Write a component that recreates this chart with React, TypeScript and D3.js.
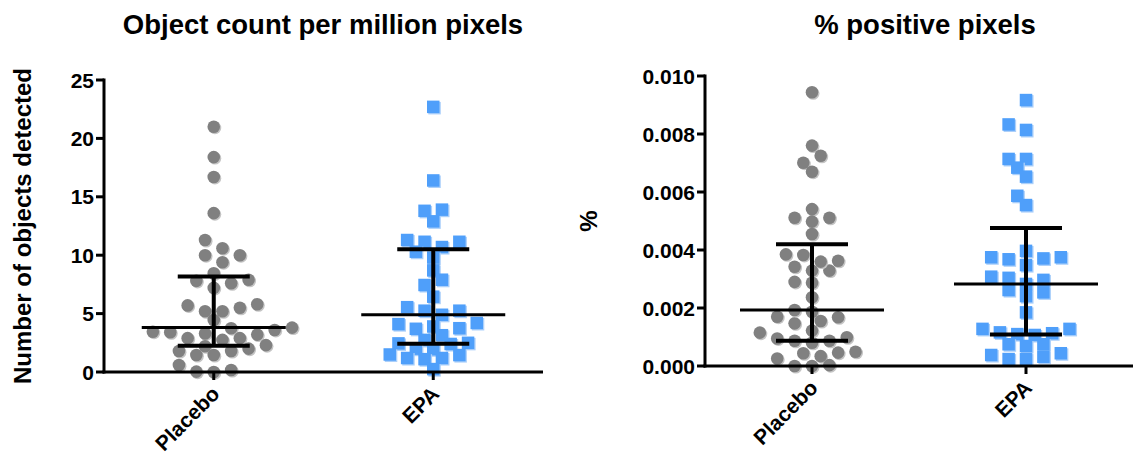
import React from "react";
import * as d3 from "d3";

// Group names shared by both panels
const groups = ["Placebo", "EPA"];

// Object count per million pixels
const countPlacebo = [
  21.0, 18.4, 16.7, 13.6, 11.3, 10.6, 10.0, 10.0, 9.4, 8.45, 7.8, 7.6, 7.9, 7.2,
  5.7, 5.2, 5.5, 5.8, 5.2, 4.45, 3.6, 3.4, 3.8, 3.45, 3.75, 3.3, 3.2, 2.9, 2.9,
  2.75, 2.2, 1.8, 1.8, 2.0, 2.3, 1.45, 1.45, 0.17, 0.0, 0.03, 0.6,
];
const countEPA = [
  22.7, 16.4, 13.9, 13.8, 12.9, 11.3, 11.15, 11.15, 10.7, 10.3, 9.8, 8.7, 7.9,
  7.45, 6.45, 5.25, 5.25, 5.55, 4.9, 4.2, 3.9, 3.75, 3.7, 4.1, 3.15, 2.75, 2.45,
  2.0, 1.95, 2.4, 2.5, 1.45, 1.2, 1.1, 1.2, 1.5, 0.25,
];

// % positive pixels
const pctPlacebo = [
  0.00944, 0.0076, 0.00725, 0.00701, 0.0067, 0.00541, 0.00511, 0.00498, 0.00511,
  0.00455, 0.00385, 0.00363, 0.00342, 0.00329, 0.00329, 0.0036, 0.00383, 0.00287,
  0.0029, 0.00237, 0.00187, 0.00168, 0.00147, 0.00155, 0.0017, 0.00193, 0.00115,
  0.00095, 0.00087, 0.0008, 0.00087, 0.00099, 0.00122, 0.00046, 0.00034, 0.00003,
  0.0, 0.0, 0.00026, 0.00044, 0.00049,
];
const pctEPA = [
  0.00917, 0.00833, 0.00814, 0.00714, 0.00714, 0.00684, 0.00653, 0.00587,
  0.00555, 0.00375, 0.00371, 0.00348, 0.00368, 0.00375, 0.00397, 0.00308,
  0.00297, 0.00304, 0.00283, 0.00262, 0.00254, 0.00241, 0.00185, 0.00128,
  0.00116, 0.0011, 0.00107, 0.00113, 0.00128, 0.00075, 0.00069, 0.00075,
  0.00044, 0.00032, 0.00024, 0.00024, 0.00038,
];

const countTicks = [0, 5, 10, 15, 20, 25];
const pctTicks = [0, 0.002, 0.004, 0.006, 0.008, 0.01];

const FONT = "'Liberation Sans', Arial, sans-serif";
const GRAY = "#808080";
const GRAY_SHADOW = "#c4c4c4";
const BLUE = "#4f9ffa";
const BLUE_SHADOW = "#acd0fa";

// Quantile using the (n+1)p rank rule
function quantile(values: number[], p: number) {
  const s = [...values].sort((a, b) => a - b);
  const n = s.length;
  const r = p * (n + 1);
  const lo = Math.min(Math.max(Math.floor(r), 1), n);
  const hi = Math.min(lo + 1, n);
  const f = r - Math.floor(r);
  return s[lo - 1] + f * (s[hi - 1] - s[lo - 1]);
}

// Column scatter: points sorted by value, each placed on the nearest free
// half-step slot to the column centre.
function swarm(values: number[], y: (v: number) => number, step: number, minDist: number) {
  const order = values.map((_, i) => i).sort((a, b) => values[a] - values[b]);
  const placed: { x: number; y: number }[] = [];
  const xs = new Array(values.length).fill(0);
  order.forEach((i, n) => {
    const py = y(values[i]);
    const dir = n % 2 === 0 ? 1 : -1;
    for (let k = 0; k < 40; k++) {
      const slot = k === 0 ? 0 : Math.ceil(k / 2) * (k % 2 === 1 ? dir : -dir);
      const px = (slot * step) / 2;
      const ok = placed.every((p) => Math.hypot(p.x - px, p.y - py) >= minDist);
      if (ok) {
        placed.push({ x: px, y: py });
        xs[i] = px;
        break;
      }
    }
  });
  return xs;
}

type PanelProps = {
  title: string;
  titleX: number;
  yLabel: string;
  yLabelX: number;
  x0: number;
  x1: number;
  yTop: number;
  yBottom: number;
  domain: [number, number];
  ticks: number[];
  fmt: (v: number) => string;
  series: number[][];
};

function Panel(p: PanelProps) {
  const x = d3.scaleBand<string>().domain(groups).range([p.x0, p.x1]).padding(0);
  const y = d3.scaleLinear().domain(p.domain).range([p.yBottom, p.yTop]);
  const step = 17.4;
  const sq = 12.5;
  const r = 6.3;

  return (
    <g>
      <text
        x={p.titleX}
        y={34}
        textAnchor="middle"
        fontFamily={FONT}
        fontWeight="bold"
        fontSize={27.5}
      >
        {p.title}
      </text>
      <text
        transform={`translate(${p.yLabelX},${(p.yTop + p.yBottom) / 2}) rotate(-90)`}
        textAnchor="middle"
        fontFamily={FONT}
        fontWeight="bold"
        fontSize={24}
      >
        {p.yLabel}
      </text>

      {/* points */}
      {p.series.map((vals, gi) => {
        const cx = (x(groups[gi]) as number) + x.bandwidth() / 2;
        const offs = swarm(vals, y, step, 12);
        return (
          <g key={gi}>
            {vals.map((v, i) =>
              gi === 0 ? (
                <g key={i}>
                  <circle cx={cx + offs[i] + 1.2} cy={y(v) + 1.2} r={r} fill={GRAY_SHADOW} />
                  <circle cx={cx + offs[i]} cy={y(v)} r={r} fill={GRAY} />
                </g>
              ) : (
                <g key={i}>
                  <rect
                    x={cx + offs[i] - sq / 2 + 1.3}
                    y={y(v) - sq / 2 + 1.3}
                    width={sq}
                    height={sq}
                    fill={BLUE_SHADOW}
                  />
                  <rect
                    x={cx + offs[i] - sq / 2}
                    y={y(v) - sq / 2}
                    width={sq}
                    height={sq}
                    fill={BLUE}
                  />
                </g>
              )
            )}
          </g>
        );
      })}

      {/* median with interquartile range */}
      {p.series.map((vals, gi) => {
        const cx = (x(groups[gi]) as number) + x.bandwidth() / 2;
        const med = quantile(vals, 0.5);
        const q1 = quantile(vals, 0.25);
        const q3 = quantile(vals, 0.75);
        return (
          <g key={`s${gi}`} stroke="#000">
            <line x1={cx - 72} x2={cx + 72} y1={y(med)} y2={y(med)} strokeWidth={3} />
            <line x1={cx} x2={cx} y1={y(q1)} y2={y(q3)} strokeWidth={4} />
            <line x1={cx - 36} x2={cx + 36} y1={y(q3)} y2={y(q3)} strokeWidth={4} />
            <line x1={cx - 36} x2={cx + 36} y1={y(q1)} y2={y(q1)} strokeWidth={4} />
          </g>
        );
      })}

      {/* axes */}
      <g stroke="#000" strokeWidth={3}>
        <line x1={p.x0} x2={p.x0} y1={p.yTop - 1.5} y2={p.yBottom + 1.5} />
        <line x1={p.x0 - 1.5} x2={p.x1} y1={p.yBottom} y2={p.yBottom} />
        {p.ticks.map((t) => (
          <line key={t} x1={p.x0 - 8} x2={p.x0} y1={y(t)} y2={y(t)} />
        ))}
        {groups.map((g) => {
          const cx = (x(g) as number) + x.bandwidth() / 2;
          return <line key={g} x1={cx} x2={cx} y1={p.yBottom} y2={p.yBottom + 8} />;
        })}
      </g>
      {p.ticks.map((t) => (
        <text
          key={t}
          x={p.x0 - 10}
          y={y(t)}
          dy="0.36em"
          textAnchor="end"
          fontFamily={FONT}
          fontWeight="bold"
          fontSize={21}
        >
          {p.fmt(t)}
        </text>
      ))}
      {groups.map((g) => {
        const cx = (x(g) as number) + x.bandwidth() / 2;
        return (
          <text
            key={g}
            transform={`translate(${cx + 2},${p.yBottom + 18}) rotate(-45)`}
            textAnchor="end"
            dy="0.35em"
            fontFamily={FONT}
            fontWeight="bold"
            fontSize={21}
          >
            {g}
          </text>
        );
      })}
    </g>
  );
}

export default function App() {
  return (
    <svg
      width={1141}
      height={455}
      style={{ position: "absolute", left: 0, top: 0, background: "#fff" }}
    >
      <Panel
        title="Object count per million pixels"
        titleX={323}
        yLabel="Number of objects detected"
        yLabelX={31}
        x0={104}
        x1={543}
        yTop={80}
        yBottom={372}
        domain={[0, 25]}
        ticks={countTicks}
        fmt={(v) => d3.format("d")(v)}
        series={[countPlacebo, countEPA]}
      />
      <Panel
        title="% positive pixels"
        titleX={925}
        yLabel="%"
        yLabelX={597}
        x0={705}
        x1={1133}
        yTop={76}
        yBottom={366}
        domain={[0, 0.01]}
        ticks={pctTicks}
        fmt={(v) => d3.format(".3f")(v)}
        series={[pctPlacebo, pctEPA]}
      />
    </svg>
  );
}
